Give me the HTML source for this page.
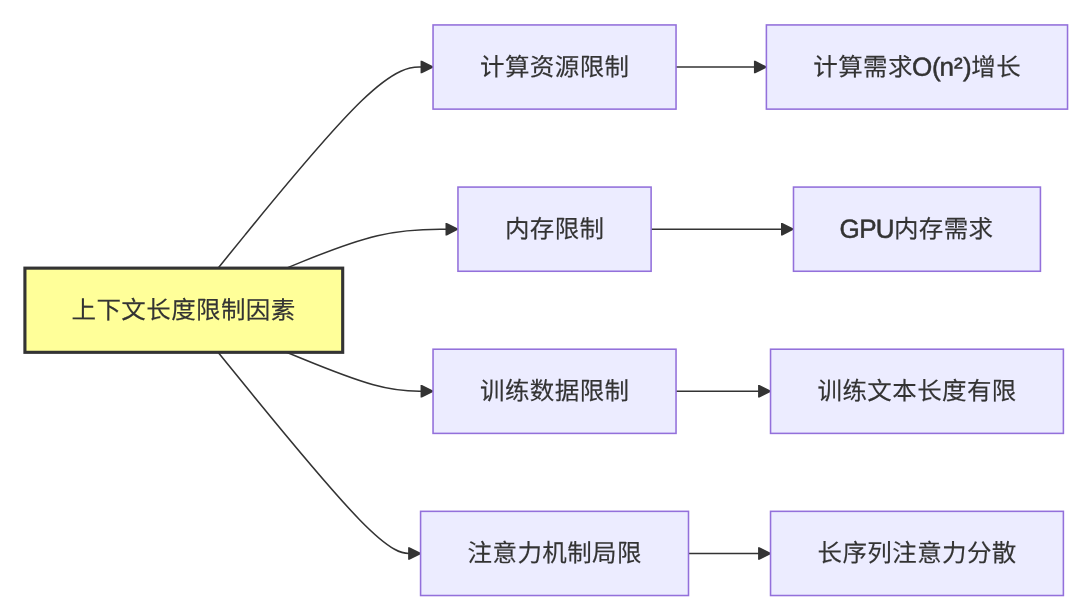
<!DOCTYPE html>
<html lang="zh-CN">
<head>
<meta charset="utf-8">
<title>上下文长度限制因素</title>
<style>
html,body{margin:0;padding:0;background:#ffffff;}
body{width:1080px;height:608px;overflow:hidden;}
svg{display:block;will-change:transform;}
.lbl text{font-family:"Liberation Sans","Noto Sans CJK SC",sans-serif;}
.lbl .la{stroke-width:0.5px;letter-spacing:0;}
</style>
</head>
<body>
<svg width="1080" height="608" viewBox="0 0 1080 608">
<g fill="none" stroke="#333333" stroke-width="1.56">
<path d="M218.05,268.14L245.31,234.63C272.58,201.11 327.11,134.07 361.9,100.55C396.69,67.04 411.75,67.04 419.28,67.04L426.81,67.04"/>
<path d="M286.53,268.14L302.38,261.65C318.23,255.15 349.93,242.16 377.47,235.66C405,229.17 428.37,229.17 440.05,229.17L451.73,229.17"/>
<path d="M286.53,352.33L302.38,358.82C318.23,365.32 349.93,378.31 373.31,384.81C396.69,391.3 411.75,391.3 419.28,391.3L426.81,391.3"/>
<path d="M218.05,352.33L245.31,385.85C272.58,419.36 327.11,486.4 359.82,519.92C392.54,553.44 403.44,553.44 408.9,553.44L414.35,553.44"/>
<path d="M676.04,67.04L760.16,67.04"/>
<path d="M651.12,229.17L787.26,229.17"/>
<path d="M676.04,391.3L764.31,391.3"/>
<path d="M688.5,553.44L764.31,553.44"/>
</g>
<g fill="#333333" stroke="none">
<path d="M420.58,60.8L421.97,60.8L433.04,66.34L433.04,67.73L421.97,73.27L420.58,73.27Z"/>
<path d="M445.5,222.93L446.9,222.93L457.96,228.47L457.96,229.87L446.9,235.41L445.5,235.41Z"/>
<path d="M420.58,385.07L421.97,385.07L433.04,390.61L433.04,392L421.97,397.54L420.58,397.54Z"/>
<path d="M408.12,547.2L409.51,547.2L420.58,552.74L420.58,554.13L409.51,559.67L408.12,559.67Z"/>
<path d="M753.93,60.8L755.32,60.8L766.39,66.34L766.39,67.73L755.32,73.27L753.93,73.27Z"/>
<path d="M781.03,222.93L782.42,222.93L793.49,228.47L793.49,229.87L782.42,235.41L781.03,235.41Z"/>
<path d="M758.08,385.07L759.47,385.07L770.54,390.61L770.54,392L759.47,397.54L758.08,397.54Z"/>
<path d="M758.08,547.2L759.47,547.2L770.54,552.74L770.54,554.13L759.47,559.67L758.08,559.67Z"/>
</g>
<g fill="#ECECFF" stroke="#9370DB" stroke-width="1.56">
<rect x="433.04" y="24.94" width="243" height="84.18"/>
<rect x="457.96" y="187.08" width="193.15" height="84.18"/>
<rect x="433.04" y="349.21" width="243" height="84.18"/>
<rect x="420.58" y="511.34" width="267.92" height="84.18"/>
<rect x="766.39" y="24.94" width="301.15" height="84.18"/>
<rect x="793.49" y="187.08" width="246.94" height="84.18"/>
<rect x="770.54" y="349.21" width="292.85" height="84.18"/>
<rect x="770.54" y="511.34" width="292.85" height="84.18"/>
</g>
<rect x="24.92" y="268.14" width="317.77" height="84.18" fill="#ffff99" stroke="#333333" stroke-width="3.12"/>
<g class="lbl" text-anchor="middle" fill="#333333" stroke="#333333" stroke-width="0.15" font-size="24.5" letter-spacing="0.4">
<text x="554.74" y="75.55" transform="rotate(0.03 554.54 75.55)">计算资源限制</text>
<text x="554.74" y="237.55" transform="rotate(0.03 554.54 237.55)">内存限制</text>
<text x="554.74" y="399.55" transform="rotate(0.03 554.54 399.55)">训练数据限制</text>
<text x="554.74" y="561.55" transform="rotate(0.03 554.54 561.55)">注意力机制局限</text>
<text text-anchor="start" aria-label="计算需求O(n²)增长" y="75.55" transform="rotate(0.03 916.96 75.55)"><tspan x="813.29">计算需求</tspan><tspan class="la" font-size="26" x="911.95 932.1 939.6 954.05 963" dy="0.3">O(n²)</tspan><tspan x="971.35" dy="-0.3">增长</tspan></text>
<text text-anchor="start" aria-label="GPU内存需求" y="237.55" transform="rotate(0.03 916.96 237.55)"><tspan class="la" font-size="26" x="839.54 859.18 875.7" dy="0.3">GPU</tspan><tspan x="893.93" dy="-0.3">内存需求</tspan></text>
<text x="917.16" y="399.55" transform="rotate(0.03 916.96 399.55)">训练文本长度有限</text>
<text x="917.16" y="561.55" transform="rotate(0.03 916.96 561.55)">长序列注意力分散</text>
<text x="183.61" y="318.6" transform="rotate(0.03 183.81 318.6)">上下文长度限制因素</text>
</g>
</svg>
</body>
</html>
